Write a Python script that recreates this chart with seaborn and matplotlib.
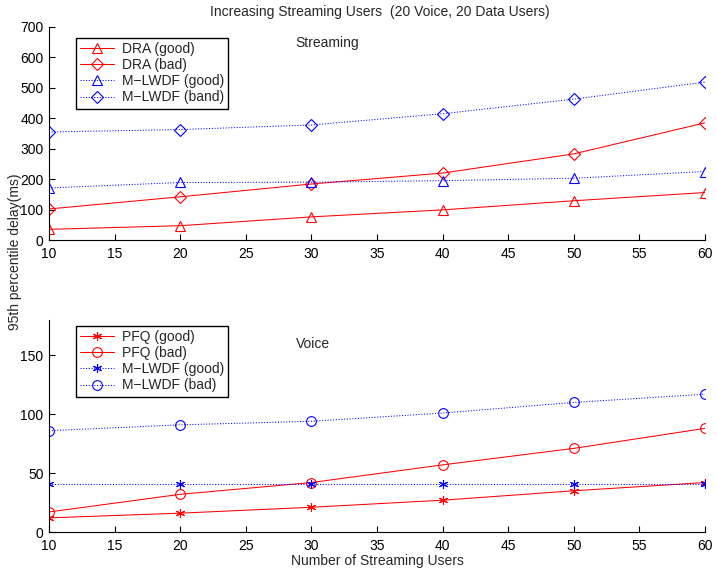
import matplotlib
matplotlib.use("Agg")
import matplotlib.pyplot as plt
import seaborn as sns
import pandas as pd

users = [10, 20, 30, 40, 50, 60]

# Streaming (top)
dra_good = [35, 47, 76, 99, 129, 156]
dra_bad = [102, 142, 184, 220, 283, 385]
mlwdf_s_good = [171, 189, 190, 195, 203, 225]
mlwdf_s_band = [355, 363, 378, 415, 463, 519]

# Voice (bottom)
pfq_good = [12, 16, 21, 27, 35, 42]
pfq_bad = [17, 32, 42, 57, 71, 88]
mlwdf_v_good = [41, 41, 41, 41, 41, 41]
mlwdf_v_bad = [86, 91, 94, 101, 110, 117]

sns.set_style("ticks")
plt.rcParams['font.family'] = ['Liberation Sans', 'DejaVu Sans']
plt.rcParams['font.size'] = 9
plt.rcParams['xtick.direction'] = 'in'
plt.rcParams['ytick.direction'] = 'in'

fig = plt.figure(figsize=(7.17, 5.75), dpi=100)
ax1 = fig.add_axes([49/717, 1-240/575, 656/717, 213/575])
ax2 = fig.add_axes([49/717, 1-532/575, 656/717, 212/575])

ast = (6, 2, 0)

def draw(ax, y, color, marker, ls, label, ms):
    df = pd.DataFrame({"x": users, "y": y})
    filled = marker == ast
    sns.lineplot(data=df, x="x", y="y", ax=ax, color=color, marker=marker,
                 markersize=ms, markerfacecolor=(color if filled else 'none'),
                 markeredgecolor=color, markeredgewidth=0.8, linestyle=ls,
                 linewidth=0.75, label=label)

draw(ax1, dra_good, 'red', '^', '-', 'DRA (good)', 7)
draw(ax1, dra_bad, 'red', 'D', '-', 'DRA (bad)', 6)
draw(ax1, mlwdf_s_good, 'blue', '^', ':', 'M\u2212LWDF (good)', 7)
draw(ax1, mlwdf_s_band, 'blue', 'D', ':', 'M\u2212LWDF (band)', 6)

draw(ax2, pfq_good, 'red', ast, '-', 'PFQ (good)', 6.5)
draw(ax2, pfq_bad, 'red', 'o', '-', 'PFQ (bad)', 7)
draw(ax2, mlwdf_v_good, 'blue', ast, ':', 'M\u2212LWDF (good)', 6.5)
draw(ax2, mlwdf_v_bad, 'blue', 'o', ':', 'M\u2212LWDF (bad)', 7)

for ax in (ax1, ax2):
    ax.set_xlim(10, 60)
    ax.set_xticks(range(10, 61, 5))
    ax.spines['top'].set_visible(False)
    ax.spines['right'].set_visible(False)
    for s in ('left', 'bottom'):
        ax.spines[s].set_linewidth(0.8)
        ax.spines[s].set_color('black')
    ax.tick_params(labelsize=10, length=4, width=0.8, colors='black')
    ax.tick_params(axis='x', pad=5)
    ax.tick_params(axis='y', pad=4)
    ax.set_ylabel('')
    ax.set_xlabel('')

ax1.set_ylim(0, 700)
ax1.set_yticks(range(0, 701, 100))
ax2.set_ylim(0, 180)
ax2.set_yticks([0, 50, 100, 150])

ax1.text(0.376, 0.905, 'Streaming', transform=ax1.transAxes, fontsize=10)
ax2.text(0.376, 0.87, 'Voice', transform=ax2.transAxes, fontsize=10)

for ax, top in ((ax1, 38), (ax2, 326)):
    leg = ax.legend(loc='upper left', bbox_to_anchor=(76/717, 1-top/575),
                    bbox_transform=fig.transFigure, fontsize=10, frameon=True,
                    fancybox=False, edgecolor='black', framealpha=1,
                    borderpad=0.3, labelspacing=0.15, handlelength=2.4,
                    handletextpad=0.6, borderaxespad=0)
    leg.get_frame().set_linewidth(1.0)

ax2.set_xlabel('Number of Streaming Users', fontsize=10, labelpad=1)
fig.text(380/717, 1-12/575, 'Increasing Streaming Users  (20 Voice, 20 Data Users)',
         ha='center', va='center', fontsize=10)
fig.text(15/717, 1-252/575, '95th percentile delay(ms)', rotation=90,
         ha='center', va='center', fontsize=10)

fig.savefig('out.png', dpi=100, facecolor='white')
